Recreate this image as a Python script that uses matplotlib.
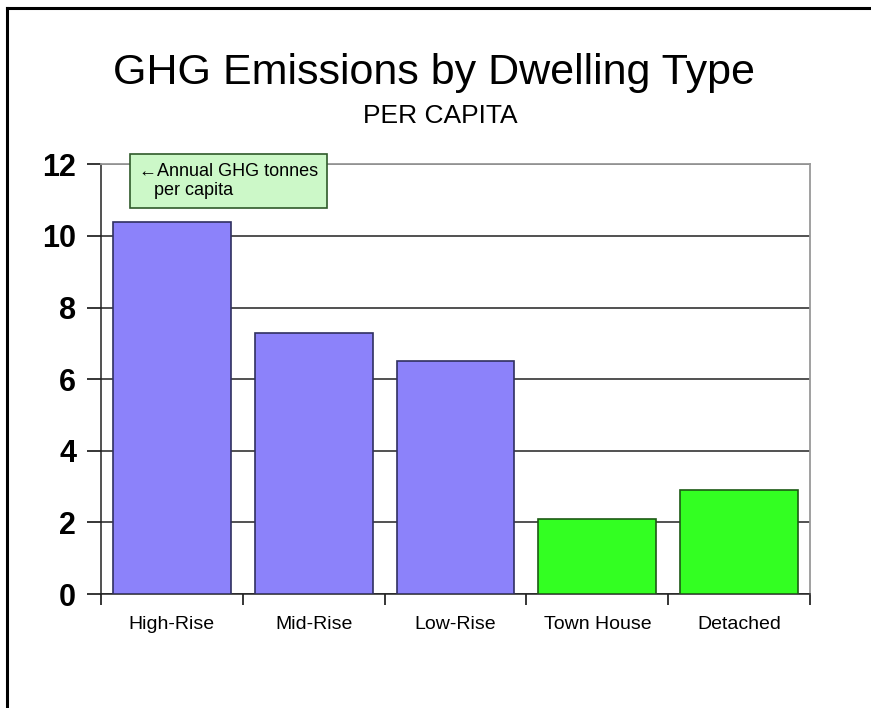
import matplotlib.pyplot as plt
import numpy as np

dwelling_types = ['High-Rise', 'Mid-Rise', 'Low-Rise', 'Town House', 'Detached']
ghg_per_capita = [10.4, 7.3, 6.5, 2.1, 2.9]
bar_colors = ['#8c82fa', '#8c82fa', '#8c82fa', '#33ff22', '#33ff22']
edge_colors = ['#303060', '#303060', '#303060', '#1d5a14', '#1d5a14']
y_ticks = [0, 2, 4, 6, 8, 10, 12]

plt.rcParams['font.family'] = ['Liberation Sans', 'DejaVu Sans']

fig = plt.figure(figsize=(8.71, 7.08), dpi=100)
ax = fig.add_axes([0.116, 0.161, 0.814, 0.607])

x = np.arange(len(dwelling_types))
ax.bar(x, ghg_per_capita, width=0.83, color=bar_colors,
       edgecolor=edge_colors, linewidth=1.2, zorder=3)

ax.set_xlim(-0.5, len(dwelling_types) - 0.5)
ax.set_ylim(0, 12)
ax.set_yticks(y_ticks)
ax.set_yticklabels([str(v) for v in y_ticks], fontsize=22, fontweight='bold')
ax.yaxis.grid(True, color='#222222', linewidth=1.1, zorder=0)
ax.tick_params(axis='y', direction='out', length=10, width=1.1, pad=8)

# category boundaries carry the tick marks, names sit between them
ax.set_xticks(np.arange(-0.5, len(dwelling_types), 1.0))
ax.set_xticklabels([])
ax.tick_params(axis='x', which='major', direction='out', length=8, width=1.1)
ax.set_xticks(x, minor=True)
ax.set_xticklabels(dwelling_types, minor=True, fontsize=14)
ax.tick_params(axis='x', which='minor', length=0, pad=16)

for side in ['left', 'bottom']:
    ax.spines[side].set_color('#222222')
    ax.spines[side].set_linewidth(1.1)
for side in ['top', 'right']:
    ax.spines[side].set_color('#999999')
    ax.spines[side].set_linewidth(1.3)

ax.text(-0.235, 12.03, '\u2190Annual GHG tonnes\n   per capita', fontsize=13,
        ha='left', va='top', zorder=5, linespacing=1.15,
        bbox=dict(boxstyle='square,pad=0.5', facecolor='#ccf8c8',
                  edgecolor='#2f5a2a', linewidth=1.2))

fig.text(0.498, 0.897, 'GHG Emissions by Dwelling Type', fontsize=31,
         ha='center', va='center')
fig.text(0.505, 0.836, 'PER CAPITA', fontsize=19, ha='center', va='center')

# page frame on the top and left edges
fig.add_artist(plt.Line2D([0.008, 1.0], [0.988, 0.988], color='black', lw=2.2))
fig.add_artist(plt.Line2D([0.008, 0.008], [0.0, 0.988], color='black', lw=2.2))

fig.savefig('out.png', dpi=100)
